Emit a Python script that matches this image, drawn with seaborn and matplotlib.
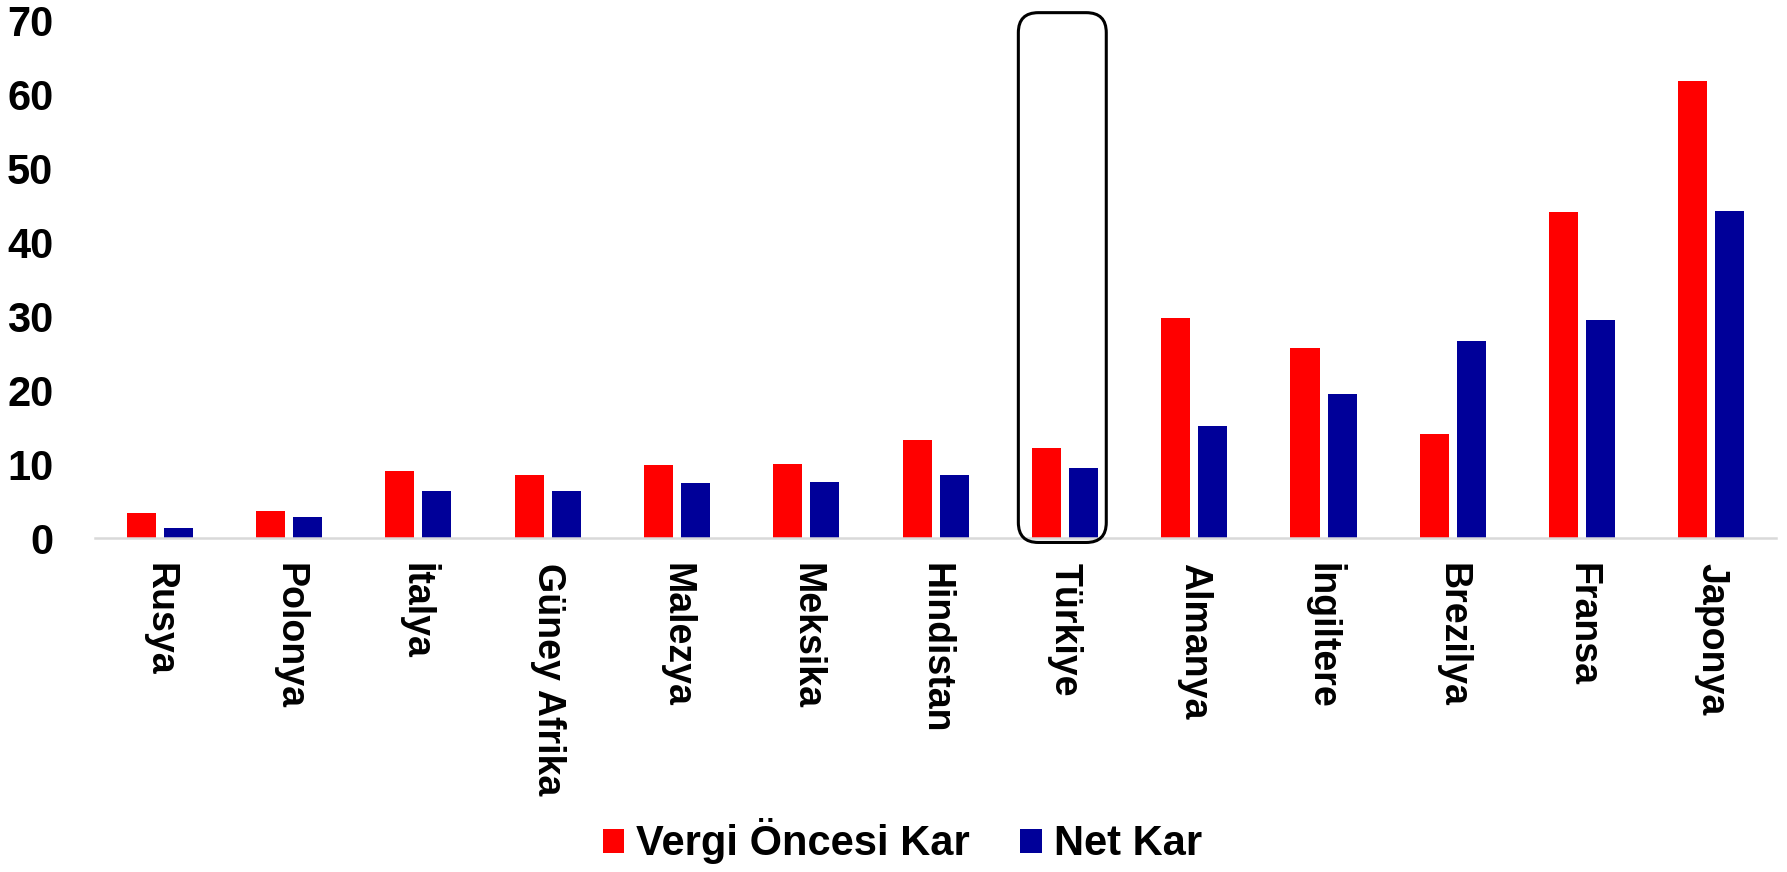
import numpy as np
import pandas as pd
import matplotlib
matplotlib.use("Agg")
import matplotlib.pyplot as plt
import seaborn as sns
from matplotlib.patches import FancyBboxPatch
from matplotlib.transforms import IdentityTransform

# Ülkeler ve değerler
ulkeler = ["Rusya", "Polonya", "İtalya", "Güney Afrika", "Malezya", "Meksika",
           "Hindistan", "Türkiye", "Almanya", "İngiltere", "Brezilya", "Fransa", "Japonya"]
vergi_oncesi = [3.4, 3.6, 9.1, 8.5, 9.9, 10.0, 13.3, 12.1, 29.7, 25.7, 14.1, 44.1, 61.8]
net_kar = [1.4, 2.9, 6.3, 6.35, 7.4, 7.6, 8.5, 9.5, 15.2, 19.4, 26.6, 29.5, 44.2]
seriler = ["Vergi Öncesi Kar", "Net Kar"]
y_ticks = [0, 10, 20, 30, 40, 50, 60, 70]
vurgulanan = "Türkiye"

renkler = ["#FF0000", "#000099"]

df = pd.DataFrame({
    "ulke": ulkeler * 2,
    "deger": vergi_oncesi + net_kar,
    "seri": [seriler[0]] * len(ulkeler) + [seriler[1]] * len(ulkeler),
})

sns.set_style("white")
plt.rcParams["font.family"] = ["Liberation Sans", "DejaVu Sans"]
plt.rcParams["font.weight"] = "bold"
plt.rcParams["text.color"] = "black"

fig = plt.figure(figsize=(17.87, 8.72), dpi=100)
ax = fig.add_axes([0.0532, 0.383, 0.9407, 0.594])

sns.barplot(data=df, x="ulke", y="deger", hue="seri", palette=renkler,
            saturation=1, width=0.573, gap=0.216, edgecolor="none", ax=ax)

ax.set_ylim(0, 70)
ax.set_xlim(-0.5, len(ulkeler) - 0.5)
ax.set_yticks(y_ticks)
ax.set_yticklabels([str(t) for t in y_ticks], fontsize=30, fontweight="bold")
ax.set_xticks(range(len(ulkeler)))
ax.set_xticklabels(ulkeler, rotation=-90, ha="center", va="top",
                   fontsize=27, fontweight="bold")
ax.tick_params(axis="y", length=0, pad=30, labelcolor="black")
ax.tick_params(axis="x", length=0, pad=18, labelcolor="black")
ax.set_xlabel("")
ax.set_ylabel("")

for side in ["top", "right", "left"]:
    ax.spines[side].set_visible(False)
ax.spines["bottom"].set_color("#d9d9d9")
ax.spines["bottom"].set_linewidth(1.8)

# Legend
handles, labels = ax.get_legend_handles_labels()
ax.get_legend().remove()
fig.legend(handles, labels, loc="center", bbox_to_anchor=(0.505, 0.035), ncol=2,
           frameon=False, prop={"size": 30, "weight": "bold"}, labelcolor="black",
           handlelength=0.52, handleheight=0.52, handletextpad=0.29,
           columnspacing=1.2)

# Türkiye çevresindeki yuvarlatılmış çerçeve
i = ulkeler.index(vurgulanan)
(x0, y0) = ax.transData.transform((i - 0.36, -0.6))
(x1, y1) = ax.transData.transform((i + 0.32, 71.0))
kutu = FancyBboxPatch((x0, y0), x1 - x0, y1 - y0,
                      boxstyle="round,pad=0,rounding_size=20",
                      facecolor="none", edgecolor="black", linewidth=2.2,
                      transform=IdentityTransform(), clip_on=False)
fig.add_artist(kutu)

fig.savefig("out.png", dpi=100)
